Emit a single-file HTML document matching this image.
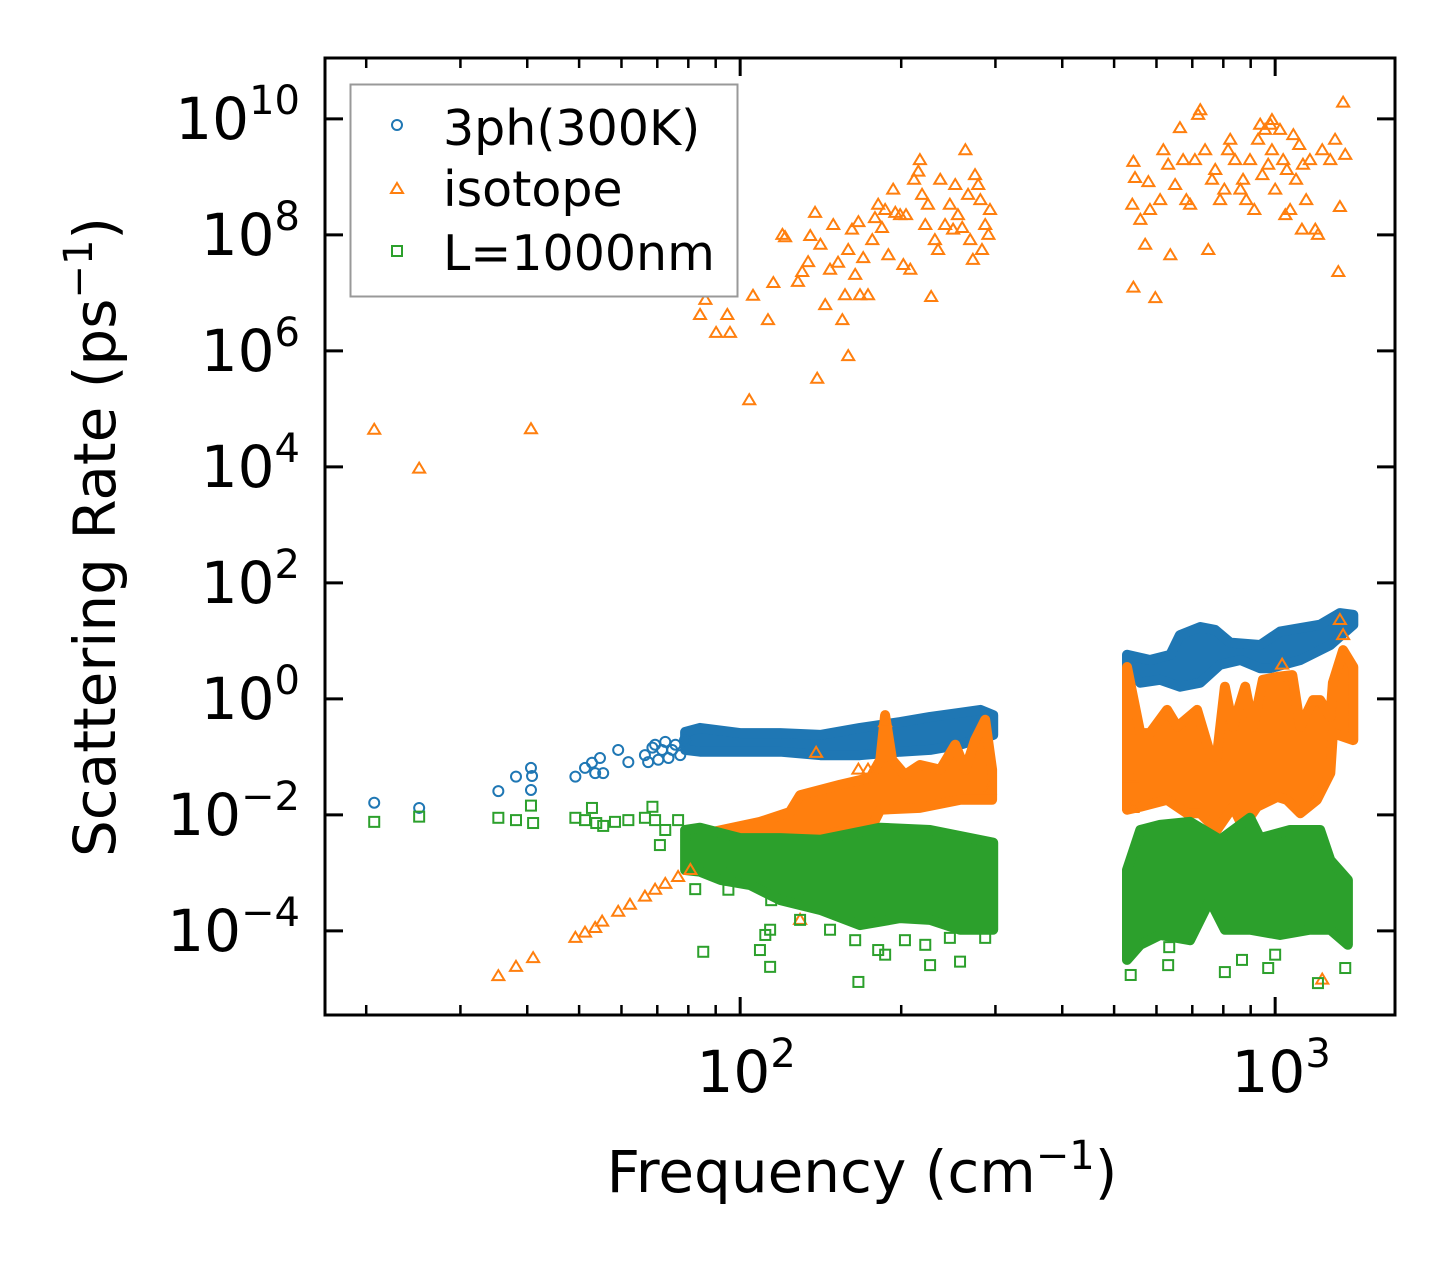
<!DOCTYPE html>
<html><head><meta charset="utf-8"><style>
html,body{margin:0;padding:0;background:#fff;}
svg{display:block;font-family:"DejaVu Sans","Liberation Sans",sans-serif;}
</style></head><body>
<svg id="chart" width="1455" height="1265" viewBox="0 0 1455 1265" xmlns="http://www.w3.org/2000/svg">
<rect x="0" y="0" width="1455" height="1265" fill="#fff"/>
<g id="bands"></g>
<g id="marks"></g>
<g id="axes"></g>
<text x="862" y="1192" font-size="58" text-anchor="middle">Frequency (cm<tspan dy="-23" font-size="40">−1</tspan><tspan dy="23">)</tspan></text>
<text transform="translate(115,537) rotate(-90)" font-size="58" text-anchor="middle">Scattering Rate (ps<tspan dy="-23" font-size="40">−1</tspan><tspan dy="23">)</tspan></text>
<g>
<rect x="350.5" y="84.5" width="387" height="212" fill="#fff" stroke="#999" stroke-width="2"/>
<g><circle cx="397" cy="125" r="5" fill="none" stroke="#1f77b4" stroke-width="2"/><text x="443" y="145" font-size="49">3ph(300K)</text></g>
<g><path d="M397,183 L403,193 L391,193 Z" fill="none" stroke="#ff7f0e" stroke-width="2"/><text x="443" y="206" font-size="49">isotope</text></g>
<g><rect x="392" y="246" width="10" height="10" fill="none" stroke="#2ca02c" stroke-width="2"/><text x="443" y="270" font-size="49">L=1000nm</text></g>
</g>
</svg>
<script>
// log10(frequency / cm^-1) and log10(rate / ps^-1)
const isoLF=[1.316,1.400,1.609,2.017,2.144,2.202,1.548,1.581,1.613,1.692,1.710,1.729,1.742,1.772,1.794,1.822,1.841,1.860,1.884,1.907,
1.925,1.935,1.955,1.981,1.976,2.024,2.052,2.062,2.079,2.084,2.108,2.116,2.127,2.131,2.140,2.150,2.159,2.168,2.174,2.183,2.191,2.196,2.202,2.209,2.215,2.221,2.224,2.230,2.239,2.247,2.252,2.258,2.265,2.271,2.277,2.286,2.290,2.299,2.305,2.310,2.318,2.325,2.333,2.336,2.340,2.346,2.351,2.357,2.364,2.370,2.374,2.383,2.392,2.398,2.402,2.407,2.415,2.421,2.426,2.430,2.435,2.439,2.445,2.449,2.452,2.458,2.464,2.467,
2.735,2.738,2.733,2.735,2.748,2.757,2.763,2.766,2.776,2.785,2.791,2.800,2.804,2.813,2.822,2.828,2.834,2.841,2.850,2.856,2.860,2.869,2.875,2.882,2.888,2.897,2.905,2.912,2.916,2.925,2.935,2.940,2.946,2.953,2.961,2.968,2.976,2.981,2.987,2.991,2.994,3.000,3.009,3.015,3.022,3.028,3.034,3.039,3.045,3.052,3.058,3.065,3.075,3.080,3.088,3.103,3.112,3.118,3.121,3.127,3.131,2.972,2.994,3.019,3.050,
2.142,2.221,2.239,2.466,2.112,2.271,3.088,2.731,2.733,3.121,3.127,3.013];
const isoLR=[4.64,3.97,4.65,5.15,5.52,5.91,-4.78,-4.62,-4.47,-4.12,-4.03,-3.95,-3.84,-3.67,-3.55,-3.41,-3.29,-3.19,-3.07,-2.95,
6.62,6.88,6.31,6.31,6.62,6.95,6.53,7.17,8.00,7.96,7.19,7.36,7.53,7.98,8.38,7.83,6.79,7.40,8.17,7.52,6.53,6.96,7.74,8.09,7.31,8.22,6.96,7.60,6.96,7.91,8.29,8.52,8.12,8.43,7.65,8.78,8.38,8.34,7.48,8.34,7.40,8.95,9.09,9.29,8.69,8.17,8.52,6.93,7.91,7.74,8.95,8.17,8.52,8.09,8.86,8.34,8.12,9.46,8.69,7.91,7.57,9.03,8.86,8.60,7.74,8.17,8.00,8.43,
9.26,8.98,8.52,7.09,8.26,7.83,8.91,8.43,6.91,8.60,9.46,9.21,7.65,8.86,9.84,9.29,8.60,8.52,9.29,10.07,10.15,9.46,7.74,8.95,9.12,8.60,8.78,9.46,9.64,9.29,8.78,8.95,8.60,9.29,8.43,9.64,9.03,9.81,9.21,9.90,9.46,8.78,9.81,9.29,9.12,8.43,9.72,8.95,9.55,9.21,8.60,9.29,8.09,8.00,9.46,9.29,9.64,7.36,8.48,10.28,9.38,9.90,9.98,8.34,8.09,
-0.93,-1.22,-1.22,-1.56,-3.81,-0.40,-4.84,-1.36,-1.88,1.36,1.10,0.59];
const phLF=[1.316,1.400,1.548,1.581,1.609,1.609,1.611,1.692,1.710,1.723,1.738,1.729,1.744,1.772,1.791,1.822,1.828,1.836,1.841,1.847,1.854,1.860,1.866,1.873,1.879,1.888,1.897];
const phLR=[-1.79,-1.88,-1.59,-1.34,-1.19,-1.57,-1.33,-1.34,-1.19,-1.10,-1.02,-1.28,-1.28,-0.88,-1.09,-0.97,-1.09,-0.84,-0.79,-1.05,-0.88,-0.74,-1.02,-0.88,-0.79,-0.97,-0.71];
const bLF=[1.316,1.400,1.548,1.581,1.609,1.613,1.692,1.710,1.723,1.731,1.744,1.766,1.791,1.822,1.836,1.841,1.850,1.860,1.884,1.907,1.931,2.037,2.056,2.058,2.108,2.221,2.355,2.411,1.978,1.916,1.985,
2.056,2.047,2.112,2.168,2.215,2.258,2.271,2.308,2.346,2.392,2.458,2.730,2.800,2.802,2.906,2.938,2.987,3.080,3.131,3.000];
const bLR=[-2.12,-2.03,-2.05,-2.09,-1.84,-2.14,-2.05,-2.09,-1.88,-2.14,-2.19,-2.12,-2.09,-2.05,-1.86,-2.09,-2.52,-2.26,-2.09,-2.34,-4.36,-4.33,-4.62,-3.47,-3.47,-4.88,-4.59,-4.53,-3.29,-3.28,-2.81,
-3.98,-4.07,-3.81,-3.98,-4.16,-4.33,-4.41,-4.16,-4.24,-4.12,-4.12,-4.76,-4.59,-4.28,-4.71,-4.50,-4.64,-4.90,-4.64,-4.41];
// dense regions: upper edge then lower edge (each in log10 units)
const isoBand1TopF=[1.925,2.037,2.093,2.112,2.187,2.243,2.262,2.271,2.284,2.308,2.336,2.374,2.402,2.421,2.439,2.458,2.471];
const isoBand1TopR=[-2.34,-2.12,-1.95,-1.66,-1.48,-1.36,-1.05,-0.28,-1.05,-1.31,-1.14,-1.22,-0.79,-1.22,-0.71,-0.36,-1.22];
const isoBand1BotF=[1.925,2.037,2.112,2.187,2.243,2.262,2.336,2.411,2.471];
const isoBand1BotR=[-2.95,-2.69,-2.43,-2.29,-2.26,-1.91,-1.88,-1.74,-1.74];
const isoBand2TopF=[2.723,2.748,2.766,2.798,2.817,2.854,2.878,2.891,2.906,2.921,2.944,2.959,2.977,3.004,3.032,3.047,3.071,3.084,3.103,3.108,3.127,3.146];
const isoBand2TopR=[0.55,-0.59,-0.59,-0.19,-0.48,-0.19,-0.93,-1.00,0.21,-0.48,0.21,-0.48,0.33,0.38,0.41,-0.48,-0.02,-0.02,-0.31,0.28,0.84,0.55];
const isoBand2BotF=[2.723,2.748,2.798,2.835,2.860,2.891,2.921,2.940,2.966,3.004,3.022,3.047,3.078,3.103,3.108,3.146];
const isoBand2BotR=[-1.91,-1.86,-1.74,-1.97,-1.97,-2.26,-1.86,-2.21,-1.86,-1.69,-1.74,-1.97,-1.74,-1.28,-0.59,-0.71];
const phBand1TopF=[1.897,1.925,2.000,2.075,2.150,2.224,2.299,2.355,2.411,2.449,2.473];
const phBand1TopR=[-0.57,-0.50,-0.59,-0.59,-0.62,-0.50,-0.40,-0.31,-0.24,-0.19,-0.28];
const phBand1BotF=[1.897,1.925,2.000,2.075,2.150,2.224,2.299,2.355,2.411,2.473];
const phBand1BotR=[-0.88,-0.91,-0.91,-0.91,-0.97,-0.97,-0.91,-0.88,-0.79,-0.62];
const phBand2TopF=[2.723,2.766,2.804,2.822,2.860,2.888,2.916,2.972,3.009,3.047,3.084,3.121,3.146];
const phBand2TopR=[0.76,0.67,0.76,1.10,1.24,1.19,0.97,0.93,1.16,1.22,1.28,1.48,1.45];
const phBand2BotF=[2.723,2.748,2.785,2.822,2.860,2.897,2.935,2.972,2.991,3.047,3.103,3.146];
const phBand2BotR=[0.53,0.28,0.33,0.21,0.28,0.59,0.67,0.53,0.53,0.67,0.93,1.28];
const bBand1TopF=[1.897,1.925,2.000,2.075,2.150,2.262,2.355,2.473];
const bBand1TopR=[-2.26,-2.22,-2.40,-2.40,-2.43,-2.22,-2.26,-2.48];
const bBand1BotF=[1.897,1.925,1.963,2.019,2.075,2.150,2.224,2.299,2.355,2.411,2.473];
const bBand1BotR=[-2.95,-2.98,-3.12,-3.21,-3.47,-3.64,-3.90,-3.78,-3.81,-3.98,-3.98];
const bBand2TopF=[2.723,2.748,2.785,2.841,2.897,2.953,2.972,3.028,3.084,3.103,3.136];
const bBand2TopR=[-2.95,-2.26,-2.17,-2.12,-2.43,-2.05,-2.40,-2.26,-2.26,-2.78,-3.12];
const bBand2BotF=[2.723,2.748,2.785,2.841,2.878,2.906,2.953,3.009,3.065,3.103,3.136];
const bBand2BotR=[-4.50,-4.24,-4.07,-4.16,-3.47,-3.98,-3.98,-4.07,-3.98,-3.98,-4.24];
const yTickExp=[10,8,6,4,2,0,-2,-4];
const xTickExp=[2,3];
const xMinor=[20,30,40,50,60,70,80,90,200,300,400,500,600,700,800,900];

const L=325,R=1395,T=58,B=1015;
const X0=1.224,X1=3.224,Y0=-5.45,Y1=11.05;
function sx(lf){return L+(lf-X0)/(X1-X0)*(R-L);}
function sy(lr){return B-(lr-Y0)/(Y1-Y0)*(B-T);}
const NS="http://www.w3.org/2000/svg";
function mk(tag,attrs,parent){const e=document.createElementNS(NS,tag);for(const k in attrs)e.setAttribute(k,attrs[k]);parent.appendChild(e);return e;}
const bands=document.getElementById('bands'),marks=document.getElementById('marks'),axes=document.getElementById('axes');

function band(tf,tr,bf,br,color,name){
  let pts=[];
  for(let i=0;i<tf.length;i++)pts.push(sx(tf[i]).toFixed(1)+','+sy(tr[i]).toFixed(1));
  for(let i=bf.length-1;i>=0;i--)pts.push(sx(bf[i]).toFixed(1)+','+sy(br[i]).toFixed(1));
  const p=mk('polygon',{points:pts.join(' '),fill:color,stroke:color,'stroke-width':10,'stroke-linejoin':'round'},bands);
  
  
}
band(phBand1TopF,phBand1TopR,phBand1BotF,phBand1BotR,'#1f77b4','3ph-dense-band-low');
band(phBand2TopF,phBand2TopR,phBand2BotF,phBand2BotR,'#1f77b4','3ph-dense-band-high');
band(isoBand1TopF,isoBand1TopR,isoBand1BotF,isoBand1BotR,'#ff7f0e','isotope-dense-band-low');
band(isoBand2TopF,isoBand2TopR,isoBand2BotF,isoBand2BotR,'#ff7f0e','isotope-dense-band-high');
band(bBand1TopF,bBand1TopR,bBand1BotF,bBand1BotR,'#2ca02c','boundary-dense-band-low');
band(bBand2TopF,bBand2TopR,bBand2BotF,bBand2BotR,'#2ca02c','boundary-dense-band-high');

for(let i=0;i<phLF.length;i++){
  const c=mk('circle',{cx:sx(phLF[i]),cy:sy(phLR[i]),r:5,fill:'none',stroke:'#1f77b4','stroke-width':2},marks);
  
  
}
for(let i=0;i<isoLF.length;i++){
  const x=sx(isoLF[i]),y=sy(isoLR[i]);
  const t=mk('path',{d:`M${x},${y-6} L${x+6},${y+4} L${x-6},${y+4} Z`,fill:'none',stroke:'#ff7f0e','stroke-width':2},marks);
  
  
}
for(let i=0;i<bLF.length;i++){
  const s=mk('rect',{x:sx(bLF[i])-5,y:sy(bLR[i])-5,width:10,height:10,fill:'none',stroke:'#2ca02c','stroke-width':2},marks);
  
  
}

const fr=mk('rect',{x:L,y:T,width:R-L,height:B-T,fill:'none',stroke:'#000','stroke-width':3},axes);


yTickExp.forEach(e=>{
  const y=sy(e);
  const t1=mk('line',{x1:L,x2:L+18,y1:y,y2:y,stroke:'#000','stroke-width':3},axes);
  
  
  const t2=mk('line',{x1:R-18,x2:R,y1:y,y2:y,stroke:'#000','stroke-width':3},axes);
  
  
  const lab=mk('text',{x:300,y:y+20,'font-size':58,'text-anchor':'end'},axes);
  
  
  const exp=String(e).replace('-','−');
  lab.innerHTML=`10<tspan dy="-25" font-size="40">${exp}</tspan>`;
});
xTickExp.forEach(e=>{
  const x=sx(e);
  const t1=mk('line',{x1:x,x2:x,y1:B,y2:B-18,stroke:'#000','stroke-width':3},axes);
  
  
  const t2=mk('line',{x1:x,x2:x,y1:T,y2:T+18,stroke:'#000','stroke-width':3},axes);
  
  
  const lab=mk('text',{x:x+6,y:1092,'font-size':58,'text-anchor':'middle'},axes);
  
  
  lab.innerHTML=`10<tspan dy="-25" font-size="40">${e}</tspan>`;
});
xMinor.forEach(v=>{
  const x=sx(Math.log10(v));
  const t1=mk('line',{x1:x,x2:x,y1:B,y2:B-10,stroke:'#000','stroke-width':2.5},axes);
  
  
  const t2=mk('line',{x1:x,x2:x,y1:T,y2:T+10,stroke:'#000','stroke-width':2.5},axes);
  
  
});
</script>
</body></html>
